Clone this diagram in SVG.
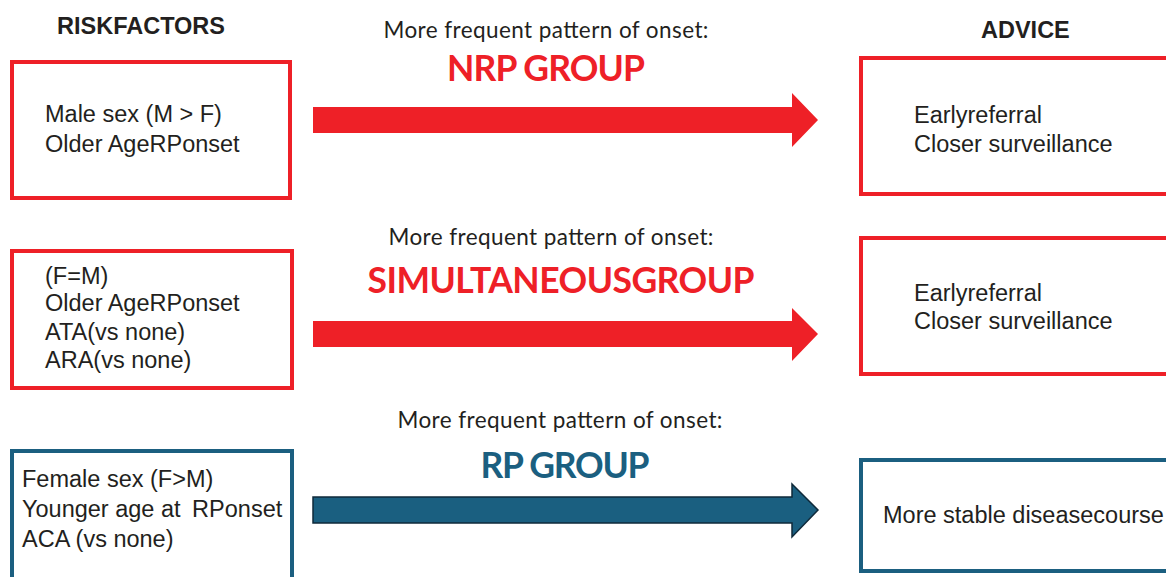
<svg xmlns="http://www.w3.org/2000/svg" width="1166" height="577" viewBox="0 0 1166 577">
<style>
.bg{fill:#ffffff}
.box{fill:#ffffff;stroke-width:4}
.red{stroke:#ee2027}
.blue{stroke:#1b5f80}
.t{font-family:"Liberation Sans",Arial,sans-serif;font-size:23.5px;fill:#231f20}
.hd{font-family:"Liberation Sans",Arial,sans-serif;font-size:23.5px;font-weight:bold;fill:#231f20}
.sub{font-family:Lato,"Open Sans",sans-serif;font-size:22.5px;fill:#231f20;text-anchor:middle}
.grp{font-family:Lato,"Open Sans",sans-serif;font-size:35.5px;font-weight:bold;text-anchor:middle}
.ar{fill:#ee2027}
.ab{fill:#1a5f80;stroke:#0f2a3a;stroke-width:1.5}
</style>
<rect class="bg" x="0" y="0" width="1166" height="577"/>
<g id="headers">
<text class="hd" x="57" y="34">RISKFACTORS</text>
<text class="hd" x="981" y="38">ADVICE</text>
</g>
<g id="risk-nrp">
<rect class="box red" x="12" y="62" width="278" height="136"/>
<text class="t" x="45" y="122">Male sex (M &gt; F)</text>
<text class="t" x="45" y="152">Older AgeRPonset</text>
</g>
<g id="risk-sim">
<rect class="box red" x="12" y="251" width="280" height="137"/>
<text class="t" x="45" y="284">(F=M)</text>
<text class="t" x="45" y="311">Older AgeRPonset</text>
<text class="t" x="45" y="340">ATA(vs none)</text>
<text class="t" x="45" y="368">ARA(vs none)</text>
</g>
<g id="risk-rp">
<rect class="box blue" x="12" y="451" width="280" height="150"/>
<text class="t" x="22" y="487">Female sex (F&gt;M)</text>
<text class="t" x="22" y="517">Younger age at <tspan dx="5">RPonset</tspan></text>
<text class="t" x="22" y="547">ACA (vs none)</text>
</g>
<g id="advice-nrp">
<rect class="box red" x="861" y="58" width="330" height="136"/>
<text class="t" x="914" y="123">Earlyreferral</text>
<text class="t" x="914" y="152">Closer surveillance</text>
</g>
<g id="advice-sim">
<rect class="box red" x="861" y="238" width="330" height="136"/>
<text class="t" x="914" y="301">Earlyreferral</text>
<text class="t" x="914" y="329">Closer surveillance</text>
</g>
<g id="advice-rp">
<rect class="box blue" x="861" y="460" width="330" height="111"/>
<text class="t" x="883" y="523">More stable diseasecourse</text>
</g>
<g id="connectors">
<polygon class="ar" points="313,107 792,107 792,93 818,120 792,147 792,133 313,133"/>
<polygon class="ar" points="313,321 792,321 792,308 818,334 792,361 792,347 313,347"/>
<polygon class="ab" points="313,497 792,497 792,484 818,510 792,537 792,523 313,523"/>
<text class="sub" x="546" y="38" textLength="325">More frequent pattern of onset:</text>
<text class="grp" x="546" y="81" fill="#ee2027" textLength="198">NRP GROUP</text>
<text class="sub" x="551" y="245" textLength="325">More frequent pattern of onset:</text>
<text class="grp" x="561" y="293" fill="#ee2027" textLength="387">SIMULTANEOUSGROUP</text>
<text class="sub" x="560" y="428" textLength="325">More frequent pattern of onset:</text>
<text class="grp" x="565" y="478" fill="#1b5f80" textLength="169">RP GROUP</text>
</g>
</svg>
